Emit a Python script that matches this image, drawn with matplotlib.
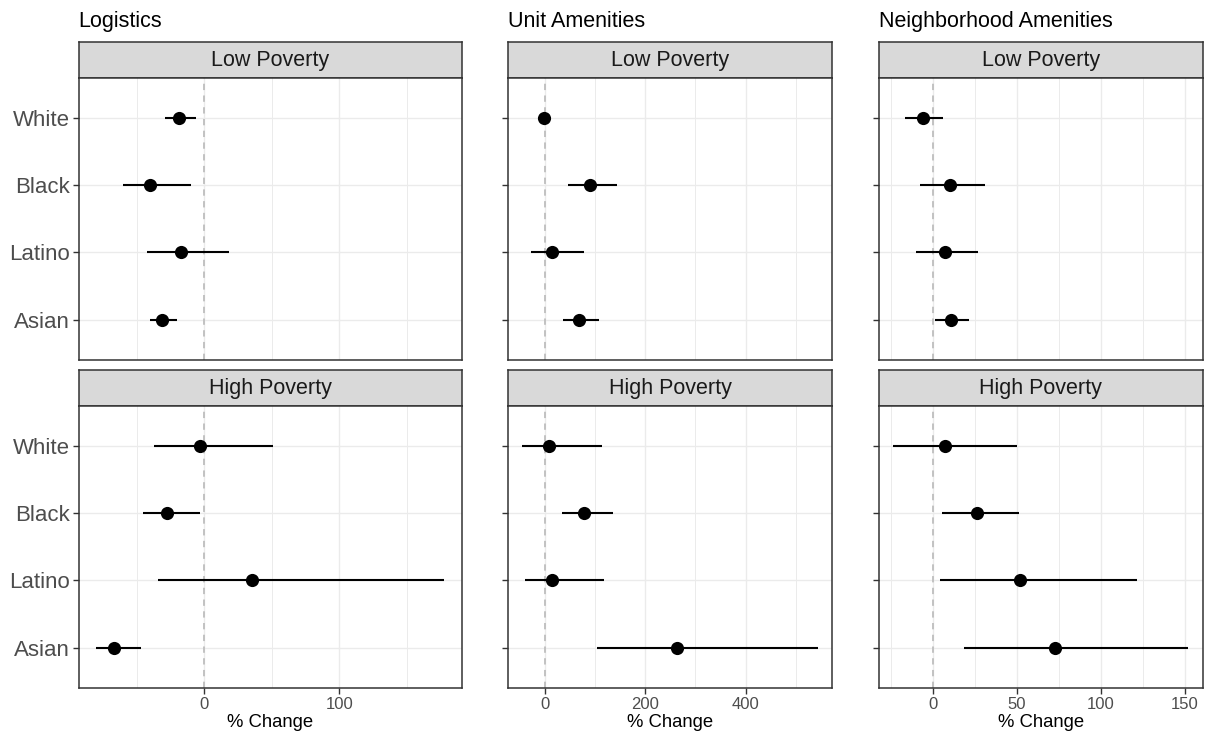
import numpy as np
import matplotlib.pyplot as plt
from matplotlib.ticker import MultipleLocator

plt.rcParams['font.family'] = ['Liberation Sans', 'DejaVu Sans']

# Groups and facet names
groups = ['White', 'Black', 'Latino', 'Asian']
outcomes = ['Logistics', 'Unit Amenities', 'Neighborhood Amenities']
poverty = ['Low Poverty', 'High Poverty']

# Estimated % change with lower / upper interval bounds
log_low_est = [-18.5, -40, -17, -31]
log_low_lo = [-29, -60, -42, -40]
log_low_hi = [-6, -10, 18.5, -20]
log_high_est = [-3, -27.5, 35, -67]
log_high_lo = [-37.5, -45.5, -34.5, -80]
log_high_hi = [50.5, -3.5, 177.5, -47]

unit_low_est = [-1, 89, 14, 68]
unit_low_lo = [-4, 47, -26.5, 36]
unit_low_hi = [3, 144, 77.5, 108]
unit_high_est = [9, 77.5, 15, 263]
unit_high_lo = [-44.5, 34, -39, 104]
unit_high_hi = [113, 135.5, 117.5, 543]

nbhd_low_est = [-6, 10, 7, 10.5]
nbhd_low_lo = [-16.5, -7.5, -10, 1]
nbhd_low_hi = [6, 31, 27, 21.5]
nbhd_high_est = [7, 26, 52, 72.5]
nbhd_high_lo = [-23.5, 5.5, 4.5, 18.5]
nbhd_high_hi = [50, 51, 121.5, 152]

results = [
    [(log_low_est, log_low_lo, log_low_hi), (log_high_est, log_high_lo, log_high_hi)],
    [(unit_low_est, unit_low_lo, unit_low_hi), (unit_high_est, unit_high_lo, unit_high_hi)],
    [(nbhd_low_est, nbhd_low_lo, nbhd_low_hi), (nbhd_high_est, nbhd_high_lo, nbhd_high_hi)],
]
major_step = [100, 200, 50]

W, H = 1208, 736
fig = plt.figure(figsize=(W / 100, H / 100), dpi=100)

def box(x0, x1, y0, y1):
    return [x0 / W, 1 - y1 / H, (x1 - x0) / W, (y1 - y0) / H]

col_x = [(78.7, 461.7), (507.7, 832.3), (878.7, 1203)]
row_y = [(41.7, 77.7, 360), (370, 405.7, 688)]
dark = '#333333'
ypos = np.arange(len(groups))[::-1] + 1

for c, (x0, x1) in enumerate(col_x):
    # shared x range for the column, 5% padding like ggplot
    lo_all = min(min(results[c][r][1]) for r in range(2))
    hi_all = max(max(results[c][r][2]) for r in range(2))
    pad = 0.05 * (hi_all - lo_all)

    fig.text(x0 / W, 1 - 26.7 / H, outcomes[c], fontsize=15.5, color='black',
             ha='left', va='baseline')

    for r, (s0, p0, p1) in enumerate(row_y):
        est, lo, hi = results[c][r]

        # facet strip
        sax = fig.add_axes(box(x0, x1, s0, p0))
        sax.set_facecolor('#D9D9D9')
        sax.set_xticks([])
        sax.set_yticks([])
        for sp in sax.spines.values():
            sp.set_color(dark)
            sp.set_linewidth(1.1)
        sax.text(0.5, 0.47, poverty[r], transform=sax.transAxes, ha='center',
                 va='center', fontsize=15.5, color='#1A1A1A')

        ax = fig.add_axes(box(x0, x1, p0, p1))
        ax.set_xlim(lo_all - pad, hi_all + pad)
        ax.set_ylim(0.4, len(groups) + 0.6)
        ax.xaxis.set_major_locator(MultipleLocator(major_step[c]))
        ax.xaxis.set_minor_locator(MultipleLocator(major_step[c] / 2))
        ax.set_yticks(ypos)
        ax.grid(which='major', color='#EBEBEB', linewidth=1.0, zorder=0)
        ax.grid(which='minor', axis='x', color='#EBEBEB', linewidth=0.7, zorder=0)
        ax.set_axisbelow(True)
        ax.axvline(0, color='#BEBEBE', linewidth=1.3, linestyle=(0, (3.5, 3)), zorder=1)

        ax.hlines(ypos, lo, hi, color='black', linewidth=1.5, zorder=2)
        ax.scatter(est, ypos, s=90, color='black', zorder=3, linewidths=0)

        for sp in ax.spines.values():
            sp.set_color(dark)
            sp.set_linewidth(1.1)
        ax.tick_params(which='minor', length=0)
        ax.tick_params(axis='y', length=4, width=1, color=dark, pad=2.5,
                       labelsize=16, labelcolor='#4D4D4D')
        if c == 0:
            ax.set_yticklabels(groups)
        else:
            ax.set_yticklabels([])

        if r == 1:
            ax.tick_params(axis='x', length=4, width=1, color=dark, pad=2.5,
                           labelsize=12, labelcolor='#4D4D4D')
            ax.set_xlabel('% Change', fontsize=13.3, color='black', labelpad=1.5)
        else:
            ax.tick_params(axis='x', length=0, labelbottom=False)

fig.savefig('out.png', dpi=100, facecolor='white')
